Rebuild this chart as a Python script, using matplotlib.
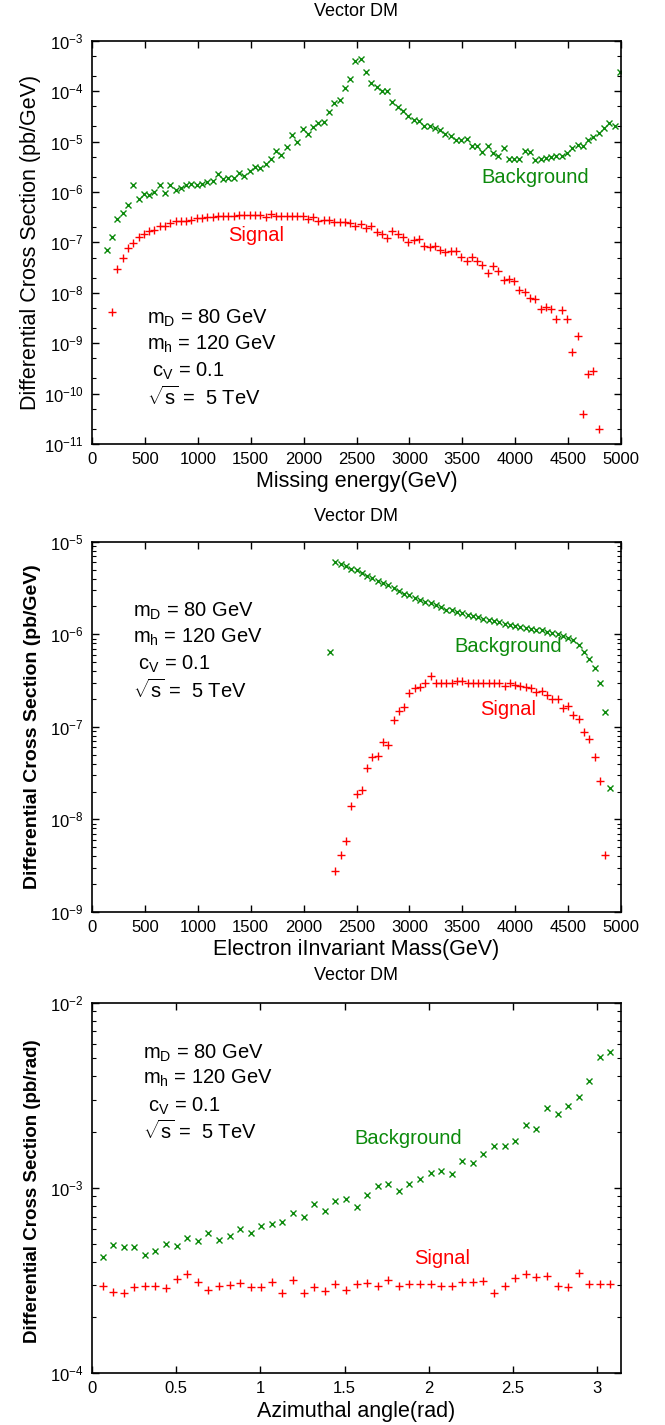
"""Vector DM: signal vs background differential cross sections (3 stacked panels)."""

import numpy as np
import matplotlib
matplotlib.use("Agg")
import matplotlib.pyplot as plt
from matplotlib.ticker import FixedLocator, LogLocator, NullFormatter, MultipleLocator

plt.rcParams["font.family"] = ["Liberation Sans", "DejaVu Sans"]
plt.rcParams["mathtext.fontset"] = "custom"
plt.rcParams["mathtext.rm"] = "Liberation Sans"
plt.rcParams["mathtext.it"] = "Liberation Sans:italic"
plt.rcParams["mathtext.bf"] = "Liberation Sans:bold"

GREEN = "#0c8a0c"
RED = "#ff0000"

# ---- panel 1: missing energy (GeV bins of 50) ----
me_bkg_x = np.arange(140, 5000, 50)
me_bkg = [7.2e-8, 1.3e-7, 2.9e-7, 3.8e-7, 5.5e-7, 1.36e-6, 7.4e-7, 8.9e-7, 8.65e-7, 9.9e-7,
          1.36e-6, 9.5e-7, 1.36e-6, 1.09e-6, 1.19e-6, 1.39e-6, 1.42e-6, 1.39e-6, 1.42e-6, 1.56e-6,
          1.63e-6, 2.3e-6, 1.79e-6, 1.88e-6, 1.88e-6, 2.35e-6, 2.04e-6, 2.57e-6, 3.1e-6, 2.95e-6,
          3.6e-6, 4.4e-6, 6.4e-6, 5.5e-6, 7.7e-6, 1.33e-5, 9.7e-6, 1.79e-5, 1.39e-5, 1.91e-5,
          2.3e-5, 2.4e-5, 3.9e-5, 5.7e-5, 6.7e-5, 1.13e-4, 1.75e-4, 3.9e-4, 4.25e-4, 2.35e-4,
          1.48e-4, 1.18e-4, 9.9e-5, 9.9e-5, 5.97e-5, 4.75e-5, 4.1e-5, 3.15e-5, 2.7e-5, 2.6e-5,
          2.04e-5, 2.04e-5, 1.82e-5, 1.66e-5, 1.41e-5, 1.26e-5, 1.08e-5, 1.06e-5, 1.1e-5, 8.2e-6,
          8.0e-6, 6.1e-6, 8.2e-6, 5.85e-6, 5.1e-6, 7.3e-6, 4.45e-6, 4.45e-6, 4.45e-6, 6.4e-6,
          6.1e-6, 4.35e-6, 4.45e-6, 4.65e-6, 4.85e-6, 5.2e-6, 5.1e-6, 5.85e-6, 7.3e-6, 8.6e-6,
          8.0e-6, 1.06e-5, 1.21e-5, 1.46e-5, 1.82e-5, 2.3e-5, 2.0e-5, 2.35e-4]
me_sig_x = np.arange(190, 4800, 50)
me_sig = [4.2e-9, 2.95e-8, 4.9e-8, 7.7e-8, 9.7e-8, 1.27e-7, 1.49e-7, 1.71e-7, 1.79e-7, 2.1e-7,
          2.15e-7, 2.4e-7, 2.6e-7, 2.6e-7, 2.7e-7, 2.83e-7, 3.03e-7, 3.03e-7, 3.18e-7, 3.18e-7,
          3.33e-7, 3.33e-7, 3.4e-7, 3.4e-7, 3.48e-7, 3.48e-7, 3.48e-7, 3.56e-7, 3.56e-7, 3.18e-7,
          3.73e-7, 3.4e-7, 3.4e-7, 3.4e-7, 3.33e-7, 3.33e-7, 3.33e-7, 2.97e-7, 3.18e-7, 2.7e-7,
          2.77e-7, 2.77e-7, 2.52e-7, 2.52e-7, 2.52e-7, 2.47e-7, 2.15e-7, 2.35e-7, 1.92e-7, 2.15e-7,
          1.6e-7, 1.46e-7, 1.22e-7, 1.67e-7, 1.46e-7, 1.27e-7, 1.03e-7, 1.11e-7, 1.16e-7, 8.6e-8,
          8.0e-8, 8.6e-8, 7.0e-8, 6.4e-8, 6.7e-8, 6.7e-8, 5.1e-8, 4.35e-8, 5.1e-8, 4.35e-8,
          3.55e-8, 2.45e-8, 3.4e-8, 2.7e-8, 1.79e-8, 1.87e-8, 1.7e-8, 1.13e-8, 1.03e-8, 7.9e-9,
          7.5e-9, 4.8e-9, 5.2e-9, 4.8e-9, 2.95e-9, 4.55e-9, 2.95e-9, 6.7e-10, 1.36e-9, 4.0e-11,
          2.4e-10, 2.8e-10, 1.95e-11]

# ---- panel 2: electron invariant mass ----
im_bkg_x = np.arange(2250, 4901, 50)
im_bkg = [6.4e-7, 6.0e-6, 5.75e-6, 5.5e-6, 5.1e-6, 4.9e-6, 4.6e-6, 4.25e-6, 4.1e-6, 3.8e-6,
          3.55e-6, 3.4e-6, 3.15e-6, 2.95e-6, 2.75e-6, 2.65e-6, 2.45e-6, 2.35e-6, 2.25e-6, 2.15e-6,
          2.05e-6, 1.95e-6, 1.85e-6, 1.82e-6, 1.75e-6, 1.7e-6, 1.62e-6, 1.58e-6, 1.52e-6, 1.48e-6,
          1.42e-6, 1.38e-6, 1.35e-6, 1.3e-6, 1.26e-6, 1.23e-6, 1.2e-6, 1.17e-6, 1.15e-6, 1.12e-6,
          1.1e-6, 1.07e-6, 1.03e-6, 1.0e-6, 9.5e-7, 9.1e-7, 8.7e-7, 7.6e-7, 6.5e-7, 5.4e-7,
          4.3e-7, 3.0e-7, 1.45e-7, 2.2e-8]
im_sig_x = np.arange(2300, 4851, 50)
im_sig = [2.75e-9, 4.1e-9, 5.9e-9, 1.41e-8, 1.87e-8, 2.1e-8, 3.55e-8, 4.7e-8, 4.9e-8, 6.8e-8,
          6.3e-8, 1.18e-7, 1.48e-7, 1.65e-7, 2.3e-7, 2.66e-7, 2.68e-7, 2.95e-7, 3.55e-7, 3.0e-7,
          2.94e-7, 2.94e-7, 2.99e-7, 3.1e-7, 3.16e-7, 2.94e-7, 2.99e-7, 2.99e-7, 2.99e-7, 2.99e-7,
          2.99e-7, 2.99e-7, 2.77e-7, 2.94e-7, 2.82e-7, 2.77e-7, 2.7e-7, 2.66e-7, 2.4e-7, 2.45e-7,
          2.2e-7, 2.0e-7, 2.0e-7, 1.58e-7, 1.7e-7, 1.35e-7, 1.23e-7, 8.9e-8, 7.4e-8, 4.7e-8,
          2.6e-8, 4.1e-9]

# ---- panel 3: azimuthal angle (50 bins over pi) ----
phi_x = np.arange(1, 50) * np.pi / 50
phi_bkg = [4.24e-4, 4.94e-4, 4.8e-4, 4.8e-4, 4.33e-4, 4.57e-4, 5.0e-4, 4.86e-4, 5.37e-4, 5.15e-4,
           5.7e-4, 5.2e-4, 5.5e-4, 6.0e-4, 5.7e-4, 6.2e-4, 6.4e-4, 6.5e-4, 7.3e-4, 7.0e-4,
           8.2e-4, 7.5e-4, 8.5e-4, 8.7e-4, 7.9e-4, 9.1e-4, 1.02e-3, 1.05e-3, 9.6e-4, 1.05e-3,
           1.11e-3, 1.2e-3, 1.24e-3, 1.19e-3, 1.4e-3, 1.36e-3, 1.53e-3, 1.69e-3, 1.68e-3, 1.79e-3,
           2.18e-3, 2.09e-3, 2.71e-3, 2.5e-3, 2.77e-3, 3.1e-3, 3.76e-3, 5.1e-3, 5.4e-3]
phi_sig = [2.94e-4, 2.74e-4, 2.69e-4, 2.92e-4, 2.95e-4, 2.95e-4, 2.88e-4, 3.2e-4, 3.41e-4, 3.1e-4,
           2.82e-4, 2.95e-4, 2.98e-4, 3.07e-4, 2.9e-4, 2.9e-4, 3.09e-4, 2.72e-4, 3.17e-4, 2.7e-4,
           2.9e-4, 2.77e-4, 3.04e-4, 2.82e-4, 3.04e-4, 3.07e-4, 2.95e-4, 3.17e-4, 2.95e-4, 3.04e-4,
           3.04e-4, 3.04e-4, 2.95e-4, 2.95e-4, 3.1e-4, 3.1e-4, 3.13e-4, 2.72e-4, 2.95e-4, 3.24e-4,
           3.44e-4, 3.3e-4, 3.34e-4, 2.95e-4, 2.92e-4, 3.48e-4, 3.02e-4, 3.02e-4, 3.02e-4]

params = [r"m$_\mathrm{D}$ = 80 GeV", r"m$_\mathrm{h}$ = 120 GeV",
          r" c$_\mathrm{V}$ = 0.1", r"$\sqrt{\mathrm{s}}$ =  5 TeV"]

W, H = 665, 1425
fig = plt.figure(figsize=(W / 100, H / 100), dpi=100)


def px_axes(left, top, right, bottom):
    return fig.add_axes([left / W, 1 - bottom / H, (right - left) / W, (bottom - top) / H])


def style(ax, subs):
    ax.set_yscale("log")
    ax.yaxis.set_minor_locator(LogLocator(base=10, subs=subs))
    ax.yaxis.set_minor_formatter(NullFormatter())
    ax.tick_params(which="both", direction="in", top=True, right=True, labelsize=12, pad=6)
    ax.tick_params(which="major", length=5, width=1)
    ax.tick_params(which="minor", length=3, width=0.8)
    ax.xaxis.set_minor_locator(FixedLocator([]))
    for s in ax.spines.values():
        s.set_linewidth(1.2)


def draw(ax, xb, yb, xs, ys):
    ax.plot(xb, yb, ls="none", marker="x", ms=4.6, mew=1.0, color=GREEN)
    ax.plot(xs, ys, ls="none", marker="+", ms=5.2, mew=1.0, color=RED)


def params_text(ax, x, ys):
    for t, y in zip(params, ys):
        ax.text(x, y, t, transform=ax.transAxes, fontsize=14.5, va="center", ha="left")


# panel 1
ax1 = px_axes(92, 40.7, 621, 444)
draw(ax1, me_bkg_x, me_bkg, me_sig_x, me_sig)
style(ax1, (2, 5))
ax1.set_xlim(0, 5000)
ax1.set_ylim(1e-11, 1e-3)
ax1.xaxis.set_major_locator(MultipleLocator(500))
ax1.set_ylabel("Differential Cross Section (pb/GeV)", fontsize=15.5)
ax1.yaxis.set_label_coords(-0.096, 0.5)
ax1.set_xlabel("Missing energy(GeV)", fontsize=15.5, labelpad=3)
ax1.text(0.837, 0.662, "Background", transform=ax1.transAxes, color=GREEN, fontsize=14.5,
         ha="center", va="center")
ax1.text(0.31, 0.516, "Signal", transform=ax1.transAxes, color=RED, fontsize=14.5,
         ha="center", va="center")
params_text(ax1, 0.104, [0.312, 0.246, 0.181, 0.117])
fig.text(356.5 / W, 1 - 12 / H, "Vector DM", ha="center", va="center", fontsize=13)

# panel 2
ax2 = px_axes(92, 541.7, 621, 912)
draw(ax2, im_bkg_x, im_bkg, im_sig_x, im_sig)
style(ax2, np.arange(2, 10))
ax2.set_xlim(0, 5000)
ax2.set_ylim(1e-9, 1e-5)
ax2.xaxis.set_major_locator(MultipleLocator(500))
ax2.set_ylabel("Differential Cross Section (pb/GeV)", fontsize=14, fontweight="bold")
ax2.yaxis.set_label_coords(-0.096, 0.5)
ax2.set_xlabel("Electron iInvariant Mass(GeV)", fontsize=15.5, labelpad=3)
ax2.text(0.786, 0.716, "Background", transform=ax2.transAxes, color=GREEN, fontsize=14.5,
         ha="center", va="center")
ax2.text(0.786, 0.548, "Signal", transform=ax2.transAxes, color=RED, fontsize=14.5,
         ha="center", va="center")
params_text(ax2, 0.0775, [0.813, 0.742, 0.670, 0.599])
fig.text(356.5 / W, 1 - 517 / H, "Vector DM", ha="center", va="center", fontsize=13)

# panel 3
ax3 = px_axes(92, 1002.7, 621, 1373)
draw(ax3, phi_x, phi_bkg, phi_x, phi_sig)
style(ax3, np.arange(2, 10))
ax3.set_xlim(0, np.pi)
ax3.set_ylim(1e-4, 1e-2)
ax3.xaxis.set_major_locator(FixedLocator([0, 0.5, 1, 1.5, 2, 2.5, 3]))
ax3.set_xticklabels(["0", "0.5", "1", "1.5", "2", "2.5", "3"])
ax3.set_ylabel("Differential Cross Section (pb/rad)", fontsize=13.5, fontweight="bold")
ax3.yaxis.set_label_coords(-0.096, 0.49)
ax3.set_xlabel("Azimuthal angle(rad)", fontsize=15.5, labelpad=3)
ax3.text(0.597, 0.632, "Background", transform=ax3.transAxes, color=GREEN, fontsize=14.5,
         ha="center", va="center")
ax3.text(0.662, 0.308, "Signal", transform=ax3.transAxes, color=RED, fontsize=14.5,
         ha="center", va="center")
params_text(ax3, 0.0964, [0.864, 0.797, 0.721, 0.653])
fig.text(356.5 / W, 1 - 975 / H, "Vector DM", ha="center", va="center", fontsize=13)

fig.savefig("out.png", dpi=100)
